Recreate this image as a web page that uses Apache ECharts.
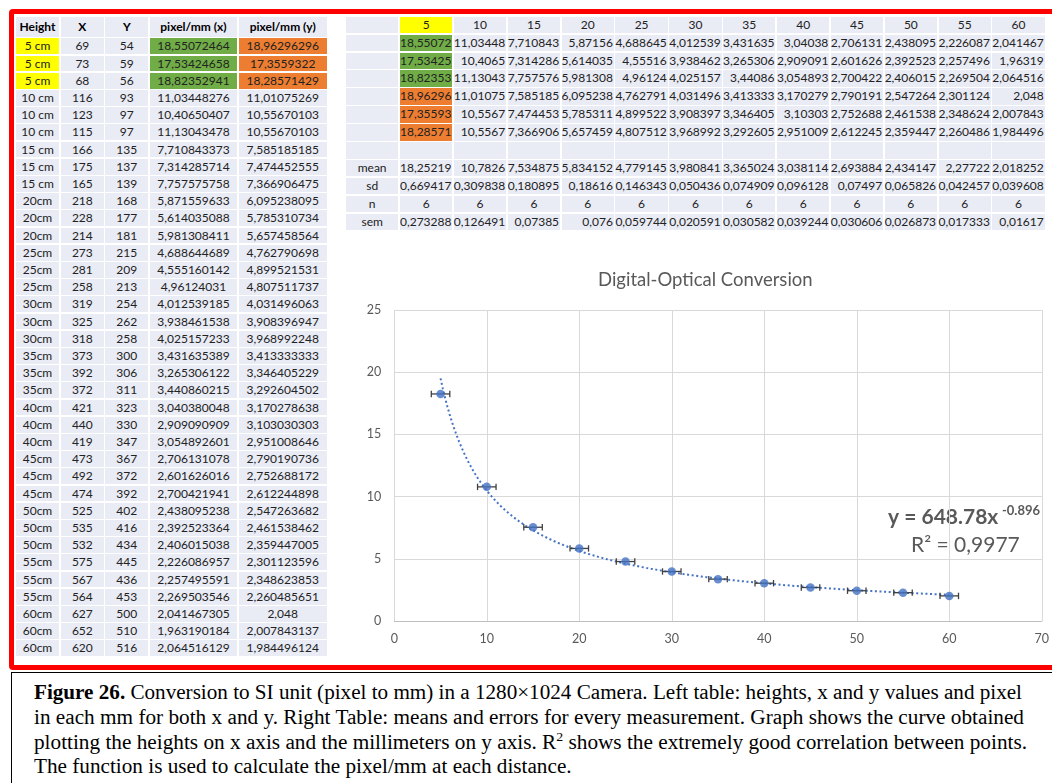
<!DOCTYPE html>
<html>
<head>
<meta charset="utf-8">
<script src="https://cdn.jsdelivr.net/npm/echarts@6/dist/echarts.min.js"></script>
<style>
html,body{margin:0;padding:0;background:#fff;}
body{width:1052px;height:783px;position:relative;overflow:hidden;font-family:Lato,"Noto Sans",sans-serif;}
.frame{position:absolute;left:9px;top:9px;width:1070px;height:661px;border:5px solid #ff0000;box-sizing:border-box;border-radius:4px;}
.cell{position:absolute;background:#e9ebf5;color:#222;font-size:12px;white-space:nowrap;box-sizing:border-box;text-align:center;}
.hdr{font-weight:bold;color:#000;}
.num{text-align:right;padding-right:1px;}
.yel{background:#ffff00;}
.grn{background:#70ad47;}
.org{background:#ed7d31;}
#chart{position:absolute;left:345px;top:250px;width:707px;height:412px;}
.caption{position:absolute;left:11px;top:672px;width:1100px;height:200px;border-left:1.5px solid #000;border-top:1.5px solid #000;box-sizing:border-box;}
.cline{position:absolute;left:34px;font-family:"Liberation Serif","Times New Roman",serif;font-size:20px;line-height:25px;color:#000;white-space:nowrap;transform-origin:0 50%;}
</style>
</head>
<body>
<div class="frame"></div>
<div id="tables"></div>
<div id="chart"></div>
<div class="caption"></div>
<div class="cline" id="c1" style="top:679.5px"><b>Figure 26.</b> Conversion to SI unit (pixel to mm) in a 1280×1024 Camera. Left table: heights, x and y values and pixel</div>
<div class="cline" id="c2" style="top:704.5px">in each mm for both x and y. Right Table: means and errors for every measurement. Graph shows the curve obtained</div>
<div class="cline" id="c3" style="top:729.5px">plotting the heights on x axis and the millimeters on y axis. R<sup style="font-size:13px;line-height:0;">2</sup> shows the extremely good correlation between points.</div>
<div class="cline" id="c4" style="top:753.5px">The function is used to calculate the pixel/mm at each distance.</div>
<script>
// ---------------- DATA ----------------
const leftHeaders = ["Height", "X", "Y", "pixel/mm (x)", "pixel/mm (y)"];
const leftHeights = ["5 cm","5 cm","5 cm","10 cm","10 cm","10 cm","15 cm","15 cm","15 cm",
  "20cm","20cm","20cm","25cm","25cm","25cm","30cm","30cm","30cm","35cm","35cm","35cm",
  "40cm","40cm","40cm","45cm","45cm","45cm","50cm","50cm","50cm","55cm","55cm","55cm","60cm","60cm","60cm"];
const leftX = [69,73,68,116,123,115,166,175,165,218,228,214,273,281,258,319,325,318,373,392,372,
  421,440,419,473,492,474,525,535,532,575,567,564,627,652,620];
const leftY = [54,59,56,93,97,97,135,137,139,168,177,181,215,209,213,254,262,258,300,306,311,
  323,330,347,367,372,392,402,416,434,445,436,453,500,510,516];
const pixelPerMmX = ["18,55072464","17,53424658","18,82352941","11,03448276","10,40650407","11,13043478",
  "7,710843373","7,314285714","7,757575758","5,871559633","5,614035088","5,981308411",
  "4,688644689","4,555160142","4,96124031","4,012539185","3,938461538","4,025157233",
  "3,431635389","3,265306122","3,440860215","3,040380048","2,909090909","3,054892601",
  "2,706131078","2,601626016","2,700421941","2,438095238","2,392523364","2,406015038",
  "2,226086957","2,257495591","2,269503546","2,041467305","1,963190184","2,064516129"];
const pixelPerMmY = ["18,96296296","17,3559322","18,28571429","11,01075269","10,55670103","10,55670103",
  "7,585185185","7,474452555","7,366906475","6,095238095","5,785310734","5,657458564",
  "4,762790698","4,899521531","4,807511737","4,031496063","3,908396947","3,968992248",
  "3,413333333","3,346405229","3,292604502","3,170278638","3,103030303","2,951008646",
  "2,790190736","2,752688172","2,612244898","2,547263682","2,461538462","2,359447005",
  "2,301123596","2,348623853","2,260485651","2,048","2,007843137","1,984496124"];

const heights = [5,10,15,20,25,30,35,40,45,50,55,60];
const rightRow1 = ["18,55072","11,03448","7,710843","5,87156","4,688645","4,012539","3,431635","3,04038","2,706131","2,438095","2,226087","2,041467"];
const rightRow2 = ["17,53425","10,4065","7,314286","5,614035","4,55516","3,938462","3,265306","2,909091","2,601626","2,392523","2,257496","1,96319"];
const rightRow3 = ["18,82353","11,13043","7,757576","5,981308","4,96124","4,025157","3,44086","3,054893","2,700422","2,406015","2,269504","2,064516"];
const rightRow4 = ["18,96296","11,01075","7,585185","6,095238","4,762791","4,031496","3,413333","3,170279","2,790191","2,547264","2,301124","2,048"];
const rightRow5 = ["17,35593","10,5567","7,474453","5,785311","4,899522","3,908397","3,346405","3,10303","2,752688","2,461538","2,348624","2,007843"];
const rightRow6 = ["18,28571","10,5567","7,366906","5,657459","4,807512","3,968992","3,292605","2,951009","2,612245","2,359447","2,260486","1,984496"];
const means = [18.25219,10.7826,7.534875,5.834152,4.779145,3.980841,3.365024,3.038114,2.693884,2.434147,2.27722,2.018252];
const sds = [0.669417,0.309838,0.180895,0.18616,0.146343,0.050436,0.074909,0.096128,0.07497,0.065826,0.042457,0.039608];
const ns = [6,6,6,6,6,6,6,6,6,6,6,6];
const sems = [0.273288,0.126491,0.07385,0.076,0.059744,0.020591,0.030582,0.039244,0.030606,0.026873,0.017333,0.01617];
const xErrorFixed = 1;       // horizontal error bar (± cm)
const equationText = "y = 648.78x";
const equationExp = "-0.896";
const r2Text = "R² = 0,9977";
const chartTitle = "Digital-Optical Conversion";
const xTicks = {min: 0, max: 70, interval: 10};
const yTicks = {min: 0, max: 25, interval: 5};

// ---------------- TABLES ----------------
const host = document.getElementById('tables');
function addCell(x, y, w, h, text, cls) {
  const d = document.createElement('div');
  d.className = 'cell ' + (cls || '');
  d.style.left = x + 'px'; d.style.top = y + 'px';
  d.style.width = w + 'px'; d.style.height = h + 'px';
  d.style.lineHeight = h + 'px';
  d.textContent = text;
  host.appendChild(d);
}
const comma = v => String(v).replace('.', ',');

// left table
const lCols = [[15.7,43.6],[60.7,43.3],[105.3,43.0],[149.7,87.6],[238.7,88.0]];
leftHeaders.forEach((t, i) => addCell(lCols[i][0], 16.7, lCols[i][1], 20, t, 'hdr'));
for (let r = 0; r < leftHeights.length; r++) {
  const y = 38.4 + r * 17.2, h = 15.8;
  const five = r < 3;
  addCell(lCols[0][0], y, lCols[0][1], h, leftHeights[r], five ? 'yel' : '');
  addCell(lCols[1][0], y, lCols[1][1], h, leftX[r]);
  addCell(lCols[2][0], y, lCols[2][1], h, leftY[r]);
  addCell(lCols[3][0], y, lCols[3][1], h, pixelPerMmX[r], five ? 'grn' : '');
  addCell(lCols[4][0], y, lCols[4][1], h, pixelPerMmY[r], five ? 'org' : '');
}

// right table
const rx0 = 400, rPitch = 53.85, rW = 52.4, ry0 = 16.7, rRow = 17.9, rH = 16.5;
const rowY = i => ry0 + i * rRow;
addCell(346, rowY(0), 52.3, rH, '');
heights.forEach((v, c) => addCell(rx0 + c * rPitch, rowY(0), rW, rH, v, c === 0 ? 'yel' : ''));
[rightRow1, rightRow2, rightRow3, rightRow4, rightRow5, rightRow6].forEach((row, ri) => {
  addCell(346, rowY(ri + 1), 52.3, rH, '');
  row.forEach((v, c) => addCell(rx0 + c * rPitch, rowY(ri + 1), rW, rH, v,
    'num' + (c === 0 ? (ri < 3 ? ' grn' : ' org') : '')));
});
addCell(346, rowY(7), 52.3, rH, '');
heights.forEach((v, c) => addCell(rx0 + c * rPitch, rowY(7), rW, rH, ''));
[['mean', means, 'num'], ['sd', sds, 'num'], ['n', ns, ''], ['sem', sems, 'num']].forEach((rw, i) => {
  addCell(346, rowY(8 + i), 52.3, rH, rw[0]);
  rw[1].forEach((v, c) => addCell(rx0 + c * rPitch, rowY(8 + i), rW, rH, comma(v), rw[2]));
});

// ---------------- CAPTION FIT ----------------
const targets = {c1: 988, c2: 990, c3: 993};
let scales = [];
Object.keys(targets).forEach(id => {
  const el = document.getElementById(id);
  const s = targets[id] / el.getBoundingClientRect().width;
  scales.push(s);
  el.style.transform = 'scaleX(' + s + ')';
});
document.getElementById('c4').style.transform = 'scaleX(' + (scales.reduce((a, b) => a + b, 0) / scales.length) + ')';

// ---------------- CHART ----------------
// power-law trendline (least squares on ln-ln, as a spreadsheet power trendline)
function powerFit(xs, ys) {
  let n = xs.length, sx = 0, sy = 0, sxx = 0, sxy = 0;
  for (let i = 0; i < n; i++) {
    const lx = Math.log(xs[i]), ly = Math.log(ys[i]);
    sx += lx; sy += ly; sxx += lx * lx; sxy += lx * ly;
  }
  const b = (n * sxy - sx * sy) / (n * sxx - sx * sx);
  const a = Math.exp((sy - b * sx) / n);
  return {a, b};
}
const fit = powerFit(heights, means);
const trend = [];
for (let x = heights[0]; x <= heights[heights.length - 1] + 1e-9; x += 0.25) {
  trend.push([x, fit.a * Math.pow(x, fit.b)]);
}
const points = heights.map((h, i) => [h, means[i]]);

const chart = echarts.init(document.getElementById('chart'), null, {renderer: 'canvas'});
const axisLabel = {color: '#595959', fontSize: 12.5, fontFamily: 'Lato'};
chart.setOption({
  animation: false,
  title: {text: chartTitle, left: 248, top: 16, padding: 5,
    textStyle: {fontFamily: 'Lato', fontSize: 18.5, fontWeight: 'normal', color: '#595959'}},
  grid: {left: 49.3, right: 6.7, top: 60, bottom: 41},
  xAxis: {type: 'value', min: xTicks.min, max: xTicks.max, interval: xTicks.interval,
    axisLine: {show: true, lineStyle: {color: '#bfbfbf', width: 1}}, axisTick: {show: false},
    splitLine: {show: true, lineStyle: {color: '#d9d9d9', width: 1}},
    axisLabel: Object.assign({margin: 11}, axisLabel)},
  yAxis: {type: 'value', min: yTicks.min, max: yTicks.max, interval: yTicks.interval,
    axisLine: {show: false}, axisTick: {show: false},
    splitLine: {show: true, lineStyle: {color: '#d9d9d9', width: 1}},
    axisLabel: Object.assign({margin: 13}, axisLabel)},
  series: [
    {type: 'line', data: trend, showSymbol: false, symbol: 'none', z: 2, silent: true,
      lineStyle: {color: '#4472c4', width: 2, type: [2, 2.6], cap: 'butt'}},
    {type: 'custom', z: 3, silent: true, data: points,
      renderItem: function (params, api) {
        const x = api.value(0), y = api.value(1);
        const p0 = api.coord([x - xErrorFixed, y]);
        const p1 = api.coord([x + xErrorFixed, y]);
        const style = {stroke: '#404040', lineWidth: 1.3};
        return {type: 'group', children: [
          {type: 'line', shape: {x1: p0[0], y1: p0[1], x2: p1[0], y2: p1[1]}, style},
          {type: 'line', shape: {x1: p0[0], y1: p0[1] - 3.2, x2: p0[0], y2: p0[1] + 3.2}, style},
          {type: 'line', shape: {x1: p1[0], y1: p1[1] - 3.2, x2: p1[0], y2: p1[1] + 3.2}, style}
        ]};
      }},
    {type: 'scatter', data: points, symbol: 'circle', symbolSize: 8.5, z: 4,
      itemStyle: {color: '#4472c4'}}
  ],
  graphic: [
    {type: 'text', x: 543, y: 267, style: {text: equationText, fill: '#595959',
      font: 'bold 21px Lato', verticalAlign: 'middle', align: 'left'}},
    {type: 'text', x: 695, y: 261, style: {text: equationExp, fill: '#595959',
      font: 'bold 13px Lato', verticalAlign: 'middle', align: 'right'}},
    {type: 'text', x: 566, y: 295, style: {text: r2Text, fill: '#595959',
      font: '21px Lato', verticalAlign: 'middle', align: 'left'}}
  ]
});
</script>
</body>
</html>
